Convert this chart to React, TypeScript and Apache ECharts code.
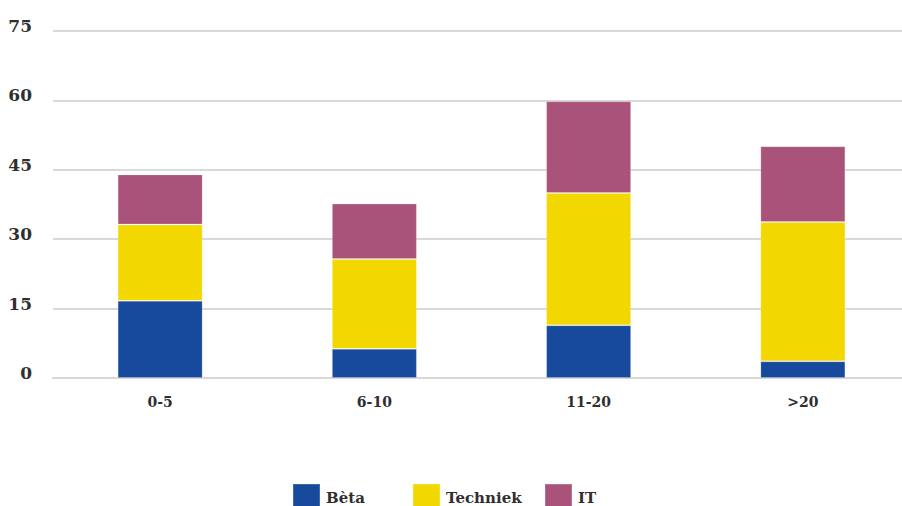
import React, { useEffect, useRef } from "react";
import * as echarts from "echarts";

// Age groups (years of experience) on the x axis
const categories = ["0-5", "6-10", "11-20", ">20"];

// Stacked shares per group
const betaValues = [16.7, 6.3, 11.4, 3.6];
const techniekValues = [16.5, 19.4, 28.6, 30.1];
const itValues = [10.8, 12.0, 19.8, 16.4];

const seriesNames = ["Bèta", "Techniek", "IT"];
const seriesColors = ["#174A9C", "#F3D700", "#A9537B"];

const yMin = 0;
const yMax = 75;
const yStep = 15;

const FONT = "'DejaVu Serif', 'Liberation Serif', serif";
const TEXT_COLOR = "#2f2f2f";
const GRID_COLOR = "#d9d9d9";

export default function App() {
  const ref = useRef<HTMLDivElement>(null);

  useEffect(() => {
    if (!ref.current) return;
    const chart = echarts.init(ref.current, undefined, { renderer: "svg" });

    const values = [betaValues, techniekValues, itValues];
    const legendLefts = [292, 412, 544];

    chart.setOption({
      animation: false,
      backgroundColor: "#ffffff",
      // the plot runs a little past the right edge of the window
      grid: {
        left: 53,
        top: 31,
        width: 857,
        height: 347,
        containLabel: false,
        outerBoundsMode: "none",
      },
      legend: seriesNames.map((name, i) => ({
        data: [name],
        left: legendLefts[i],
        top: 483,
        padding: 0,
        itemWidth: 27,
        itemHeight: 27,
        itemGap: 0,
        icon: "rect",
        selectedMode: false,
        textStyle: {
          fontFamily: FONT,
          fontWeight: "bold",
          fontSize: 15,
          color: TEXT_COLOR,
          padding: [0, 0, 0, 1],
        },
      })),
      xAxis: {
        type: "category",
        data: categories,
        axisTick: { show: false },
        axisLine: { show: true, lineStyle: { color: GRID_COLOR, width: 2 } },
        axisLabel: {
          fontFamily: FONT,
          fontWeight: "bold",
          fontSize: 14,
          color: TEXT_COLOR,
          margin: 17,
        },
      },
      yAxis: {
        type: "value",
        min: yMin,
        max: yMax,
        interval: yStep,
        axisLine: { show: false },
        axisTick: { show: false },
        splitLine: { show: true, lineStyle: { color: GRID_COLOR, width: 2 } },
        axisLabel: {
          fontFamily: FONT,
          fontWeight: "bold",
          fontSize: 17,
          color: TEXT_COLOR,
          margin: 21,
          verticalAlign: "bottom",
          lineHeight: 10,
        },
      },
      series: seriesNames.map((name, i) => ({
        name,
        type: "bar",
        stack: "total",
        barWidth: 85,
        data: values[i],
        itemStyle: {
          color: seriesColors[i],
          borderColor: "rgba(255,255,255,0.18)",
          borderWidth: 1,
        },
      })),
    });

    return () => chart.dispose();
  }, []);

  return (
    <div
      ref={ref}
      style={{ position: "fixed", left: 0, top: 0, width: 920, height: 506 }}
    />
  );
}
